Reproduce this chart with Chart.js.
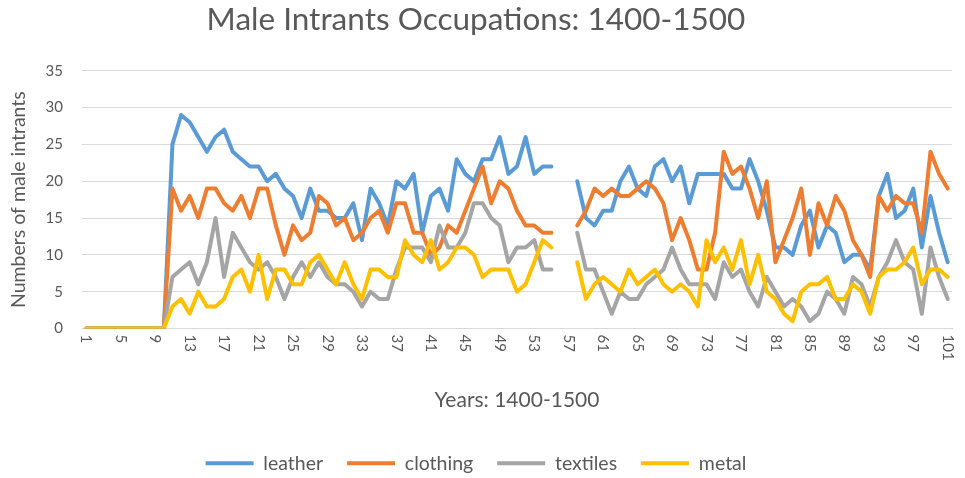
<!DOCTYPE html>
<html><head><meta charset="utf-8">
<script src="https://cdn.jsdelivr.net/npm/chart.js@4"></script>
<style>html,body{margin:0;padding:0;background:#fff}#wrap{width:965px;height:478px}</style>
</head><body><div id="wrap"><canvas id="c" width="965" height="478"></canvas></div>
<script>
const categories = Array.from({length: 101}, (_, i) => String(i + 1));
const tickLabels = ['1','5','9','13','17','21','25','29','33','37','41','45','49','53','57','61','65','69','73','77','81','85','89','93','97','101'];
const yTicks = [0, 5, 10, 15, 20, 25, 30, 35];

const leather = [0,0,0,0,0,0,0,0,0,0,
  25,29,28,26,24,26,27,24,23,22,
  22,20,21,19,18,15,19,16,16,15,
  15,17,12,19,17,14,20,19,21,13,
  18,19,16,23,21,20,23,23,26,21,
  22,26,21,22,22,null,null,20,15,14,
  16,16,20,22,19,18,22,23,20,22,
  17,21,21,21,21,19,19,23,20,16,
  11,11,10,14,16,11,14,13,9,10,
  10,8,18,21,15,16,19,11,18,13,
  9];
const clothing = [0,0,0,0,0,0,0,0,0,0,
  19,16,18,15,19,19,17,16,18,15,
  19,19,14,10,14,12,13,18,17,14,
  15,12,13,15,16,13,17,17,13,13,
  10,11,14,13,16,19,22,17,20,19,
  16,14,14,13,13,null,null,14,16,19,
  18,19,18,18,19,20,19,17,12,15,
  12,8,8,13,24,21,22,19,15,20,
  9,12,15,19,10,17,14,18,16,12,
  10,7,18,16,18,17,17,13,24,21,
  19];
const textiles = [0,0,0,0,0,0,0,0,0,0,
  7,8,9,6,9,15,7,13,11,9,
  8,9,7,4,7,9,7,9,7,6,
  6,5,3,5,4,4,8,11,11,11,
  9,14,11,11,13,17,17,15,14,9,
  11,11,12,8,8,null,null,13,8,8,
  5,2,5,4,4,6,7,8,11,8,
  6,6,6,4,9,7,8,5,3,7,
  5,3,4,3,1,2,5,4,2,7,
  6,3,7,9,12,9,8,2,11,7,
  4];
const metal = [0,0,0,0,0,0,0,0,0,0,
  3,4,2,5,3,3,4,7,8,5,
  10,4,8,8,6,6,9,10,8,6,
  9,6,4,8,8,7,7,12,10,9,
  12,8,9,11,11,10,7,8,8,8,
  5,6,9,12,11,null,null,9,4,6,
  7,6,5,8,6,7,8,6,5,6,
  5,3,12,9,11,8,12,6,10,5,
  4,2,1,5,6,6,7,4,4,6,
  5,2,7,8,8,9,11,6,8,8,
  7];

const FONT = 'Lato, "Open Sans", sans-serif';
const GREY = '#595959';

function ds(label, data, color, order) {
  return {label, data, borderColor: color, backgroundColor: color, borderWidth: 4,
    pointRadius: 0, pointHoverRadius: 0, tension: 0, spanGaps: false, fill: false,
    borderJoinStyle: 'round', borderCapStyle: 'round', order};
}

const xLabelPlugin = {
  id: 'xLabels',
  afterDraw(chart) {
    const xs = chart.scales.x;
    const ctx = chart.ctx;
    ctx.save();
    ctx.fillStyle = GREY;
    ctx.font = '15px ' + FONT;
    ctx.textAlign = 'left';
    ctx.textBaseline = 'middle';
    tickLabels.forEach(lab => {
      const idx = categories.indexOf(lab);
      const x = xs.getPixelForValue(idx);
      ctx.save();
      ctx.translate(x, xs.top + 6);
      ctx.rotate(Math.PI / 2);
      ctx.fillText(lab, 0, 0);
      ctx.restore();
    });
    ctx.restore();
  }
};

new Chart(document.getElementById('c'), {
  type: 'line',
  data: {
    labels: categories,
    datasets: [
      ds('leather', leather, '#5B9BD5', 3),
      ds('clothing', clothing, '#ED7D31', 2),
      ds('textiles', textiles, '#A5A5A5', 1),
      ds('metal', metal, '#FFC000', 0)
    ]
  },
  plugins: [xLabelPlugin],
  options: {
    responsive: false,
    animation: false,
    layout: {padding: {left: 0, right: 13, top: 0, bottom: -5}},
    plugins: {
      title: {display: true, text: 'Male Intrants Occupations: 1400-1500', color: GREY,
        font: {family: FONT, size: 31.5, weight: 'normal'}, padding: {top: 1, bottom: 32}},
      legend: {position: 'bottom',
        labels: {boxWidth: 48, boxHeight: 4, color: GREY, padding: 24,
          font: {family: FONT, size: 19.5},
          sort: (a, b) => a.datasetIndex - b.datasetIndex,
          generateLabels(chart) {
            return Chart.defaults.plugins.legend.labels.generateLabels(chart).map(l => {
              l.lineWidth = 0; l.fillStyle = l.strokeStyle; return l;
            });
          }}},
      tooltip: {enabled: false}
    },
    scales: {
      x: {
        offset: true,
        grid: {display: false, drawTicks: false},
        border: {display: true, color: '#D9D9D9', width: 1},
        ticks: {display: false, autoSkip: false},
        title: {display: true, text: 'Years: 1400-1500', color: GREY,
          font: {family: FONT, size: 21}, padding: {top: 4, bottom: 17}},
        afterFit(scale) { scale.height = 101; }
      },
      y: {
        min: 0, max: 35,
        afterBuildTicks(scale) { scale.ticks = yTicks.map(v => ({value: v})); },
        grid: {color: '#D9D9D9', drawTicks: false},
        border: {display: false},
        ticks: {color: GREY, font: {family: FONT, size: 15}, padding: 19},
        title: {display: true, text: 'Numbers of male intrants', color: GREY,
          font: {family: FONT, size: 19.5}, padding: {top: 7, bottom: 4}},
        afterFit(scale) { scale.width = 82; }
      }
    }
  }
});
</script></body></html>
